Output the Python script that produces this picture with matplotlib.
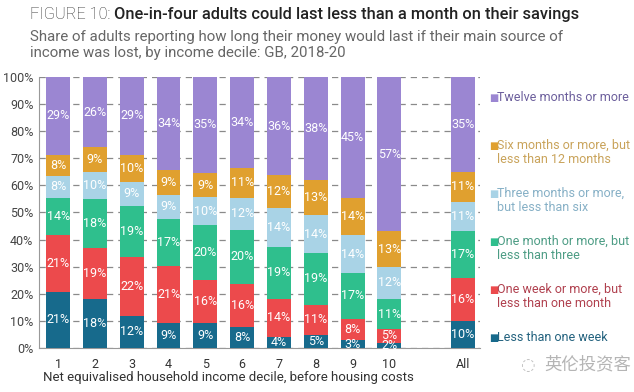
import numpy as np
import matplotlib.pyplot as plt

# categories (income deciles + All)
deciles = ['1', '2', '3', '4', '5', '6', '7', '8', '9', '10', 'All']
positions = [1, 2, 3, 4, 5, 6, 7, 8, 9, 10, 12]

# series, bottom to top
series_names = ['Less than one week',
                'One week or more, but\nless than one month',
                'One month or more, but\nless than three',
                'Three months or more,\nbut less than six',
                'Six months or more, but\nless than 12 months',
                'Twelve months or more']

less_week   = [21, 18, 12, 9, 9, 8, 4, 5, 3, 2, 10]
week_month  = [21, 19, 22, 21, 16, 16, 14, 11, 8, 5, 16]
month_three = [14, 18, 19, 17, 20, 20, 19, 19, 17, 11, 17]
three_six   = [8, 10, 9, 9, 10, 12, 14, 14, 14, 12, 11]
six_twelve  = [8, 9, 10, 9, 9, 11, 12, 13, 14, 13, 11]
twelve_plus = [29, 26, 29, 34, 35, 34, 36, 38, 45, 57, 35]

bar_colors  = ['#176a8c', '#ec4a4c', '#2fbf8d', '#a9d3e6', '#e0a02f', '#9b86d2']
text_colors = ['#23627e', '#b0404e', '#4c9c84', '#86b0c6', '#c9a35a', '#6c5f9c']

plt.rcParams['font.family'] = ['Roboto', 'DejaVu Sans']

data = np.array([less_week, week_month, month_three, three_six, six_twelve, twelve_plus], dtype=float)
shares = data / data.sum(axis=0) * 100   # bars fill to 100%

fig = plt.figure(figsize=(6.34, 3.92), dpi=100)
ax = fig.add_axes([0.0615, 0.112, 0.696, 0.692])

bottom = np.zeros(len(deciles))
for i in range(len(series_names)):
    ax.bar(positions, shares[i], bottom=bottom, width=0.65, color=bar_colors[i], zorder=3)
    for x, b, h, v in zip(positions, bottom, shares[i], data[i]):
        ax.text(x, b + h / 2, f'{int(v)}%', ha='center', va='center',
                color='white', fontsize=9, zorder=4)
    bottom += shares[i]

ax.set_xlim(0.48, 12.47)
ax.set_ylim(0, 100)
ax.set_yticks(range(0, 101, 10))
ax.set_yticklabels([f'{t}%' for t in range(0, 101, 10)], fontsize=9, color='#444444')
ax.set_xticks(positions)
ax.set_xticklabels(deciles, fontsize=9, color='#333333')
ax.tick_params(axis='x', length=0, pad=7)
ax.tick_params(axis='y', length=0, pad=4)
ax.yaxis.grid(True, color='#8a8a8a', linestyle=(0, (5, 4)), linewidth=0.9, zorder=0)
for s in ['top', 'right']:
    ax.spines[s].set_visible(False)
ax.spines['left'].set_color('#999999')
ax.spines['bottom'].set_color('#999999')

# title with two weights
t1 = fig.text(0.047, 0.964, 'FIGURE 10: ', fontsize=11.8, fontweight='light', color='#333333', va='center')
fig.canvas.draw()
bb = t1.get_window_extent()
fig.text(bb.x1 / fig.bbox.width, 0.964, 'One-in-four adults could last less than a month on their savings',
         fontsize=11.8, fontweight='medium', color='#222222', va='center')
fig.text(0.047, 0.886, 'Share of adults reporting how long their money would last if their main source of\n'
         'income was lost, by income decile: GB, 2018-20',
         fontsize=10.8, color='#666666', va='center', linespacing=1.15)

fig.text(0.068, 0.036, 'Net equivalised household income decile, before housing costs',
         fontsize=9.5, color='#333333', va='center')

# legend, top to bottom
leg_y = [0.762, 0.64, 0.517, 0.395, 0.273, 0.15]
for k, y in enumerate(leg_y):
    i = len(series_names) - 1 - k
    fig.text(0.771, y, '■', fontsize=7, color=bar_colors[i], va='top', family='DejaVu Sans')
    fig.text(0.784, y + 0.006, series_names[i], fontsize=9, color=text_colors[i],
             va='top', linespacing=1.15)

fig.text(0.82, 0.07, '◌', fontsize=12, color='#c0c0c0', va='center', family='DejaVu Sans')
fig.text(0.858, 0.07, '英伦投资客', fontsize=12.5, color='#b5b5b5', va='center',
         family=['Noto Sans CJK SC', 'DejaVu Sans'])

fig.savefig('out.png', dpi=100)
